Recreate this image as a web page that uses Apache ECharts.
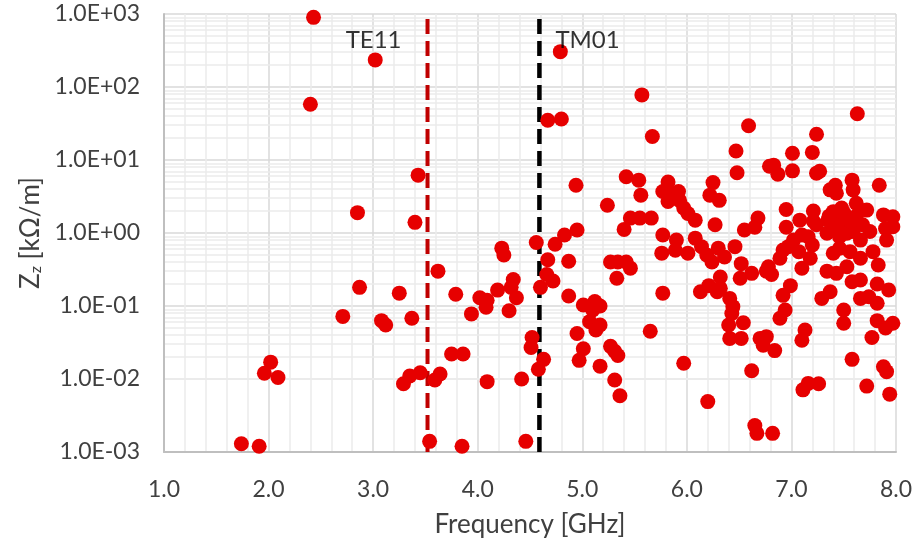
<!DOCTYPE html>
<html>
<head>
<meta charset="utf-8">
<script src="https://cdn.jsdelivr.net/npm/echarts@6/dist/echarts.min.js"></script>
<style>html,body{margin:0;padding:0;background:#fff}#c{width:917px;height:544px}</style>
</head>
<body>
<div id="c"></div>
<script>
// Frequency [GHz] and longitudinal impedance Zz [kOhm/m] of each mode
const freq = [
2.43,3.02,2.40,2.85,2.87,3.25,2.71,3.08,3.12,2.02,1.96,2.09,1.74,1.91,
4.79,4.67,4.80,5.57,3.43,3.40,4.94,5.42,5.54,5.56,5.24,5.46,5.40,4.95,4.83,4.56,
4.74,4.23,4.25,3.62,4.67,4.87,4.66,4.72,4.60,4.34,4.32,4.37,4.19,4.02,4.09,4.08,
3.94,4.30,3.79,3.37,4.52,4.51,4.63,4.58,3.75,3.86,3.29,3.35,3.45,3.59,3.64,4.09,
4.42,3.54,3.85,4.46,4.87,5.01,5.12,5.17,5.10,5.07,5.17,5.13,4.95,5.01,4.97,5.17,
5.27,5.34,5.31,5.31,5.36,5.27,5.34,5.42,5.46,5.33,5.67,6.59,7.63,6.47,6.48,7.24,
7.20,7.01,7.01,6.79,6.83,6.87,7.24,7.27,7.84,5.82,5.77,5.84,5.92,5.93,5.82,5.97,
6.01,6.08,5.55,5.66,6.25,6.22,6.31,6.27,6.68,6.65,6.55,6.95,7.21,7.08,6.95,7.21,
7.24,7.37,7.42,7.43,7.58,7.59,7.40,7.48,7.62,7.72,7.88,7.97,5.77,5.90,5.89,5.76,
6.01,6.08,6.14,6.19,6.24,6.30,6.36,6.46,6.52,6.62,6.51,6.13,6.21,6.32,6.32,6.29,
6.41,6.44,6.43,6.40,6.54,6.41,6.52,6.70,6.76,6.73,6.84,6.62,6.65,6.67,6.82,6.20,
5.97,5.65,5.77,7.02,6.97,6.92,6.89,7.07,7.10,7.18,7.20,7.16,7.10,6.78,6.81,6.76,
6.99,6.92,6.89,6.94,7.13,7.10,7.11,7.16,7.26,7.34,7.37,7.29,7.43,7.53,7.58,7.66,
7.34,7.40,7.46,7.53,7.59,7.66,7.46,7.40,7.56,7.66,7.78,7.75,7.91,7.97,7.90,7.83,
7.82,7.74,7.66,7.82,7.93,7.50,7.50,7.82,7.90,7.97,7.77,7.58,7.88,7.91,7.72,7.94,
7.45,7.52,7.55,7.62,7.50,7.35,7.68,7.44,7.36,7.57
];
const impedance = [
900,235,58,1.9,0.18,0.15,0.072,0.063,0.055,0.017,0.012,0.0105,0.0013,0.0012,
305,35,36.5,78,6.2,1.4,4.5,5.9,5.3,3.3,2.4,1.6,1.12,1.1,0.94,0.74,
0.70,0.62,0.50,0.30,0.43,0.41,0.27,0.22,0.18,0.23,0.18,0.13,0.165,0.13,0.12,0.096,
0.078,0.086,0.145,0.068,0.037,0.027,0.0186,0.0136,0.022,0.022,0.0086,0.011,0.0122,0.0097,0.0117,0.0092,
0.010,0.0014,0.0012,0.0014,0.137,0.103,0.115,0.10,0.088,0.061,0.055,0.047,0.042,0.026,0.018,0.015,
0.028,0.021,0.024,0.0097,0.0059,0.40,0.40,0.40,0.33,0.24,21,29.5,43,13.3,6.7,22.5,
12.7,12.4,7.1,8.2,8.5,6.4,6.6,7.0,4.5,5.0,3.7,3.5,3.7,2.8,2.7,2.2,
1.85,1.5,1.6,1.6,4.9,3.3,2.8,1.3,1.6,1.2,1.1,2.1,2.0,1.5,1.2,1.45,
1.3,3.9,4.5,3.5,5.3,3.9,1.96,2.2,2.55,2.06,1.77,1.67,0.94,0.80,0.58,0.53,
0.53,0.85,0.65,0.50,0.40,0.62,0.47,0.65,0.38,0.28,0.24,0.157,0.19,0.25,0.175,0.157,
0.127,0.098,0.079,0.055,0.059,0.036,0.036,0.036,0.038,0.029,0.0245,0.013,0.0023,0.0018,0.0018,0.0049,
0.0164,0.045,0.15,0.80,0.65,0.585,0.45,0.555,0.33,0.45,0.686,0.89,0.94,0.345,0.27,0.30,
0.19,0.14,0.068,0.088,0.047,0.034,0.0071,0.0087,0.0086,0.30,0.157,0.127,0.28,0.345,0.215,0.227,
0.99,1.10,0.89,0.99,1.05,0.80,0.617,0.527,0.555,0.45,0.555,1.05,0.80,1.22,1.15,0.365,
0.20,0.134,0.127,0.109,0.166,0.088,0.058,0.063,0.050,0.058,0.037,0.0186,0.0147,0.0126,0.0080,0.0062,
1.5,1.6,1.3,1.7,1.9,1.5,1.3,1.25,1.7,1.45
];
// Cut-off frequencies [GHz]
const modeNames = ['TE11', 'TM01'];
const modeFreq = [3.52, 4.59];
const modeLabelZ = 440;
// Axis ranges / ticks
const xTicks = ['1.0','2.0','3.0','4.0','5.0','6.0','7.0','8.0'];
const yTickLabels = ['1.0E-03','1.0E-02','1.0E-01','1.0E+00','1.0E+01','1.0E+02','1.0E+03'];
const yMin = 0.001, yMax = 1000;

const minorY = [];
for (let e = -3; e < 3; e++) for (let m = 2; m <= 9; m++) minorY.push({yAxis: m * Math.pow(10, e)});

const font = 'Lato';
const chart = echarts.init(document.getElementById('c'), null, {renderer: 'canvas'});
chart.setOption({
  animation: false,
  backgroundColor: '#fff',
  grid: {left: 164, right: 21, top: 14, bottom: 92, containLabel: false},
  xAxis: {
    type: 'value', min: 1, max: 8, interval: 1,
    name: 'Frequency [GHz]', nameLocation: 'middle', nameGap: 60,
    nameTextStyle: {fontFamily: font, fontSize: 26, color: '#404040'},
    axisLine: {show: true, lineStyle: {color: '#BFBFBF', width: 2}},
    axisTick: {show: false},
    axisLabel: {fontFamily: font, fontSize: 23, color: '#404040', margin: 26,
      formatter: v => xTicks[Math.round(v) - 1]},
    splitLine: {show: true, lineStyle: {color: '#D9D9D9', width: 1.5}},
    minorTick: {show: false, splitNumber: 5},
    minorSplitLine: {show: true, lineStyle: {color: '#EBEBEB', width: 1.5}}
  },
  yAxis: {
    type: 'log', logBase: 10, min: yMin, max: yMax, splitNumber: 6,
    name: '{a|Z}{b|z}{a| [kΩ/m]}', nameLocation: 'middle', nameGap: 120, nameRotate: 90,
    nameTextStyle: {rich: {
      a: {fontFamily: font, fontSize: 26, color: '#404040', lineHeight: 26},
      b: {fontFamily: font, fontSize: 16, color: '#404040', lineHeight: 10, verticalAlign: 'bottom'}
    }},
    axisLine: {show: true, lineStyle: {color: '#BFBFBF', width: 2}},
    axisTick: {show: false},
    axisLabel: {fontFamily: font, fontSize: 23, color: '#404040', margin: 24,
      formatter: v => yTickLabels[Math.round(Math.log10(v)) + 3]},
    splitLine: {show: true, lineStyle: {color: '#D9D9D9', width: 1.5}}
  },
  series: [
    {
      type: 'line', data: [], z: 0, zlevel: 0, silent: true,
      markLine: {z: 0, silent: true, symbol: ['none', 'none'], label: {show: false},
        emphasis: {disabled: true},
        lineStyle: {color: '#EBEBEB', width: 1.5, type: 'solid'}, data: minorY}
    },
    {
      type: 'line', z: 3, silent: true, showSymbol: false,
      data: [[modeFreq[0], yMin], [modeFreq[0], yMax]],
      lineStyle: {color: '#C00000', width: 4, type: [15, 7], cap: 'butt'}
    },
    {
      type: 'line', z: 3, silent: true, showSymbol: false,
      data: [[modeFreq[1], yMin], [modeFreq[1], yMax]],
      lineStyle: {color: '#000000', width: 4.5, type: [15, 7], cap: 'butt'}
    },
    {
      type: 'scatter', z: 4, symbolSize: 15,
      itemStyle: {color: '#E60000', opacity: 1},
      data: freq.map((f, i) => [f, impedance[i]])
    },
    {
      type: 'scatter', z: 5, symbolSize: 0, silent: true,
      data: [
        {value: [modeFreq[0], modeLabelZ], name: modeNames[0],
          label: {show: true, position: 'left', distance: 26, formatter: '{b}'}},
        {value: [modeFreq[1], modeLabelZ], name: modeNames[1],
          label: {show: true, position: 'right', distance: 16, formatter: '{b}'}}
      ],
      label: {fontFamily: font, fontSize: 24, color: '#000'}
    }
  ]
});
</script>
</body>
</html>
